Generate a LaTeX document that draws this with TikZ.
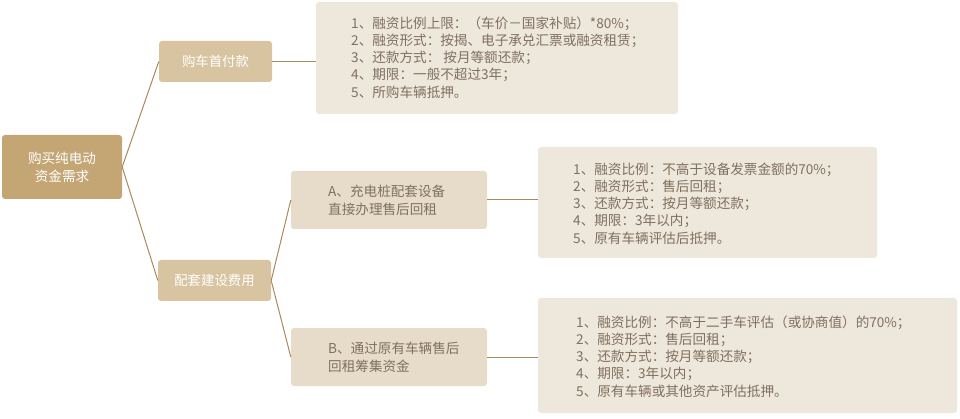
\documentclass[tikz,border=0pt]{standalone}
\usepackage{fontspec}
\setmainfont{Noto Sans CJK SC}
\definecolor{rootc}{HTML}{C4A574}
\definecolor{lonec}{HTML}{D8C4A1}
\definecolor{ltwoc}{HTML}{E7DCCA}
\definecolor{detc}{HTML}{EEE7DC}
\definecolor{linec}{HTML}{A88A5C}
\definecolor{txtc}{HTML}{80705F}
\begin{document}
\begin{tikzpicture}[x=1pt,y=-1pt,
  box/.style={rounded corners=3pt,inner sep=0pt},
  rootbox/.style={box,fill=rootc,text=white,align=center,font=\fontsize{13.6}{18}\selectfont},
  lonebox/.style={box,fill=lonec,text=white,align=center,font=\fontsize{13.4}{18}\selectfont},
  ltwobox/.style={box,fill=ltwoc},
  detbox/.style={box,fill=detc},
  btext/.style={anchor=west,align=left,text=txtc,inner sep=0pt,font=\fontsize{13.6}{18}\selectfont},
  dtext/.style={anchor=west,align=left,text=txtc,inner sep=0pt,font=\fontsize{13.6}{17.2}\selectfont},
  conn/.style={draw=linec,line width=1pt}]
\useasboundingbox (0,0) rectangle (960,419);
\node[rootbox,minimum width=120,minimum height=64] (root) at (62,167) {购买纯电动\\资金需求};
\node[lonebox,minimum width=113,minimum height=41] (car) at (215.5,61.5) {购车首付款};
\node[lonebox,minimum width=113,minimum height=41] (infra) at (214.5,280.5) {配套建设费用};
\node[detbox,minimum width=362,minimum height=112] (d1) at (497,58) {};
\node[dtext] (d1t) at (351,57.5) {1、融资比例上限：（车价－国家补贴）*80\%；\\2、融资形式：按揭、电子承兑汇票或融资租赁；\\3、还款方式： 按月等额还款；\\4、期限：一般不超过3年；\\5、所购车辆抵押。};
\node[ltwobox,minimum width=196,minimum height=58] (a) at (389,200) {};
\node[btext] (at) at (328,200) {A、充电桩配套设备\\直接办理售后回租};
\node[ltwobox,minimum width=196,minimum height=58] (b) at (389,357) {};
\node[btext] (bt) at (328,357) {B、通过原有车辆售后\\回租筹集资金};
\node[detbox,minimum width=339,minimum height=111] (d2) at (707.5,202.5) {};
\node[dtext] (d2t) at (573,203.5) {1、融资比例：不高于设备发票金额的70\%；\\2、融资形式：售后回租；\\3、还款方式：按月等额还款；\\4、期限：3年以内；\\5、原有车辆评估后抵押。};
\node[detbox,minimum width=419,minimum height=115] (d3) at (747.5,355.5) {};
\node[dtext] (d3t) at (576,356.5) {1、融资比例：不高于二手车评估（或协商值）的70\%；\\2、融资形式：售后回租；\\3、还款方式：按月等额还款；\\4、期限：3年以内；\\5、原有车辆或其他资产评估抵押。};
\draw[conn] (root.east) -- (car.west);
\draw[conn] (root.east) -- (infra.west);
\draw[conn] (car.east) -- (car.east -| d1.west);
\draw[conn] (infra.east) -- (a.west);
\draw[conn] (infra.east) -- (b.west);
\draw[conn] (a.east) -- (a.east -| d2.west);
\draw[conn] (b.east) -- (b.east -| d3.west);
\end{tikzpicture}
\end{document}
